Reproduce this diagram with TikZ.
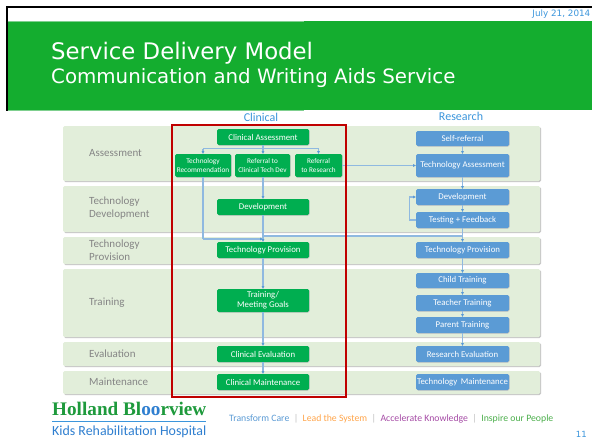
\documentclass[tikz,border=0pt]{standalone}
\usepackage{fontspec}
\setmainfont{Carlito}
\newfontfamily\headfont{DejaVu Sans}
\newfontfamily\logofont{Liberation Serif}
\usetikzlibrary{shadows,arrows.meta}
\definecolor{band}{HTML}{14AD2F}
\definecolor{bandedge}{HTML}{7FD08F}
\definecolor{gbox}{HTML}{00AE50}
\definecolor{bbox}{HTML}{5B9BD5}
\definecolor{rowfill}{HTML}{E2EEDA}
\definecolor{link}{HTML}{8FB9E0}
\definecolor{redframe}{HTML}{C00000}
\definecolor{headblue}{HTML}{3C96DC}
\definecolor{lab}{HTML}{858585}
\definecolor{logogreen}{HTML}{1E9A3C}
\definecolor{logoblue}{HTML}{2F7FD0}
\tikzset{
  x=1pt,y=-1pt,
  anynode/.style={inner sep=0pt,outer sep=0pt,align=center,text=white,font=\fontsize{8.8}{10}\selectfont},
  rowbox/.style={anynode,fill=rowfill,rounded corners=1.5pt,drop shadow={shadow xshift=1pt,shadow yshift=-1pt,fill=black!22,opacity=1}},
  greenbox/.style={anynode,fill=gbox,rounded corners=1.5pt,drop shadow={shadow xshift=.6pt,shadow yshift=-.6pt,fill=black!25,opacity=1}},
  bluebox/.style={anynode,fill=bbox,rounded corners=1.5pt,drop shadow={shadow xshift=.6pt,shadow yshift=-.6pt,fill=black!25,opacity=1}},
  rowlabel/.style={inner sep=0pt,anchor=west,align=left,text=lab,font=\fontsize{11}{13}\selectfont},
  linkline/.style={draw=link,line width=1.1pt},
  linkarrow/.style={linkline,-{Latex[length=2.8pt,width=3pt,color=bbox]}},
  coltitle/.style={inner sep=0pt,text=headblue,font=\fontsize{12}{14}\selectfont},
  blackline/.style={draw=black,line width=1.3pt},
}
\newcommand{\bx}[7]{%
  \pgfmathsetmacro{\cxv}{(#3+#5)/2}\pgfmathsetmacro{\cyv}{(#4+#6)/2}%
  \pgfmathsetmacro{\wv}{#5-#3}\pgfmathsetmacro{\hv}{#6-#4}%
  \node[#2,minimum width=\wv pt,minimum height=\hv pt] (#1) at (\cxv,\cyv) {#7};}
\begin{document}
\begin{tikzpicture}
\useasboundingbox (0,0) rectangle (592,444);
\fill[white] (0,0) rectangle (592,444);
% header
\draw[blackline] (592,7) -- (7,7) -- (7,111);
\fill[band] (7.6,21) rectangle (592,110);
\draw[bandedge,line width=.8pt] (7.6,21) -- (304,21) (7.6,110) -- (304,110);
\node[inner sep=0pt,anchor=east,text=headblue,font=\headfont\fontsize{8.8}{10}\selectfont] (date) at (590.5,14.5) {July 21, 2014};
\node[inner sep=0pt,anchor=base west,text=white,font=\headfont\fontsize{22.8}{26}\selectfont] (title) at (51,59.5) {Service Delivery Model};
\node[inner sep=0pt,anchor=base west,text=white,font=\headfont\fontsize{19.8}{23}\selectfont] (subtitle) at (51,83.5) {Communication and Writing Aids Service};
% column titles
\node[coltitle] (clin) at (261,117) {Clinical};
\node[coltitle] (res) at (461,116.500) {Research};
% rows
\bx{r1}{rowbox}{63}{126}{540}{181}{}
\bx{r2}{rowbox}{63}{186}{540}{232}{}
\bx{r3}{rowbox}{63}{237}{540}{264}{}
\bx{r4}{rowbox}{63}{269}{540}{337}{}
\bx{r5}{rowbox}{63}{342}{540}{366}{}
\bx{r6}{rowbox}{63}{371}{540}{394}{}
\node[rowlabel] (l1) at (89,153) {Assessment};
\node[rowlabel] (l2) at (89,208.500) {Technology\\Development};
\node[rowlabel] (l3) at (89,250.500) {Technology\\Provision};
\node[rowlabel] (l4) at (89,303) {Training};
\node[rowlabel] (l5) at (89,353.500) {Evaluation};
\node[rowlabel] (l6) at (89,382) {Maintenance};
% clinical boxes
\bx{ca}{greenbox}{217}{129}{309}{145}{Clinical Assessment}
\bx{tr}{greenbox,font=\fontsize{7.3}{8.8}\selectfont}{175}{154}{231}{177}{Technology\\Recommendation}
\bx{rd}{greenbox,font=\fontsize{7.2}{8.8}\selectfont}{235}{154}{290}{177}{Referral to\\Clinical Tech Dev}
\bx{rr}{greenbox,font=\fontsize{7.2}{8.8}\selectfont}{295}{154}{342}{177}{Referral\\to Research}
\bx{cd}{greenbox}{217}{199}{309}{215}{Development}
\bx{ct}{greenbox}{217}{242}{309}{258}{Technology Provision}
\bx{cg}{greenbox}{217}{289}{309}{312}{Training/\\Meeting Goals}
\bx{ce}{greenbox}{217}{346}{309}{362}{Clinical Evaluation}
\bx{cm}{greenbox}{217}{374}{309}{390}{Clinical Maintenance}
% research boxes
\bx{sr}{bluebox}{416}{131}{509}{146}{Self-referral}
\bx{ta}{bluebox}{416}{154}{509}{177}{Technology Assessment}
\bx{dv}{bluebox}{416}{189}{509}{205}{Development}
\bx{tf}{bluebox}{416}{212}{509}{228}{Testing + Feedback}
\bx{tp}{bluebox}{416}{242}{509}{258}{Technology Provision}
\bx{ch}{bluebox}{416}{273}{509}{288}{Child Training}
\bx{te}{bluebox}{416}{295}{509}{311}{Teacher Training}
\bx{pa}{bluebox}{416}{317}{509}{333}{Parent Training}
\bx{re}{bluebox}{416}{346}{509}{362}{Research Evaluation}
\bx{tm}{bluebox}{416}{374}{509}{390}{Technology\, Maintenance}
% junctions
\coordinate (busl) at (tr.south |- 0,148.500);
\coordinate (busc) at (263,148.500);
\coordinate (busr) at (rr.south |- 0,148.500);
\coordinate (jl) at (203,239);
\coordinate (jc) at (263,239);
\coordinate (jm) at (263,236);
\coordinate (jr) at (462.500,236);
\coordinate (lpb) at (409.500,220);
\coordinate (lpt) at (409.500,197);
% connectors
\draw[linkline] (ca.south -| busc) -- (busc);
\draw[linkarrow] (busl) -- (tr.north);
\draw[linkarrow] (busc) -- (rd.north -| busc);
\draw[linkarrow] (busr) -- (rr.north);
\draw[linkline] (busl) -- (busr);
\draw[linkline] (tr.south -| jl) -- (jl);
\draw[linkarrow] (jl) -- (jc);
\draw[linkarrow] (rd.south -| jc) -- (cd.north -| jc);
\draw[linkarrow] (cd.south -| jc) -- (ct.north -| jc);
\draw[linkarrow] (ct.south -| jc) -- (cg.north -| jc);
\draw[linkarrow] (cg.south -| jc) -- (ce.north -| jc);
\draw[linkarrow] (ce.south -| jc) -- (cm.north -| jc);
\draw[linkarrow] (rr.east |- ta.west) -- (ta.west);
\draw[linkarrow] (sr.south) -- (ta.north);
\draw[linkarrow] (ta.south) -- (dv.north);
\draw[linkarrow] (dv.south) -- (tf.north);
\draw[linkarrow] (tf.west |- lpb) -- (lpb) -- (lpt) -- (dv.west |- lpt);
\draw[linkarrow] (tf.south) -- (tp.north);
\draw[linkline] (jm) -- (jr);
\draw[linkarrow] (tp.south) -- (ch.north);
\draw[linkarrow] (ch.south) -- (te.north);
\draw[linkarrow] (te.south) -- (pa.north);
\draw[linkarrow] (pa.south) -- (re.north);
% red frame
\draw[redframe,line width=2pt] (172,124.500) rectangle (346,396.500);
% footer
\node[inner sep=0pt,anchor=base west,font=\logofont\bfseries\fontsize{19.2}{21}\selectfont,text=logogreen] (logo) at (52,415) {Holland Bl\textcolor{logoblue}{oo}rview};
\coordinate (rulel) at (52,421);
\coordinate (ruler) at (206,421);
\draw[headblue,line width=.7pt] (rulel) -- (ruler);
\node[inner sep=0pt,anchor=base west,font=\fontsize{13.9}{15}\selectfont,text=logoblue] (kids) at (52,435) {Kids Rehabilitation Hospital};
\node[inner sep=0pt,anchor=base west,font=\fontsize{9.750}{12}\selectfont] (tag) at (229,421) {\textcolor{bbox}{Transform Care}\textcolor{black!25}{\ \ |\ \ }\textcolor{orange!70}{Lead the System}\textcolor{black!25}{\ \ |\ \ }\textcolor{violet!70}{Accelerate Knowledge}\textcolor{black!25}{\ \ |\ \ }\textcolor{green!55!black!70}{Inspire our People}};
\node[inner sep=0pt,anchor=east,text=headblue,font=\headfont\fontsize{8.5}{10}\selectfont] (num) at (587,434) {11};
\end{tikzpicture}
\end{document}
